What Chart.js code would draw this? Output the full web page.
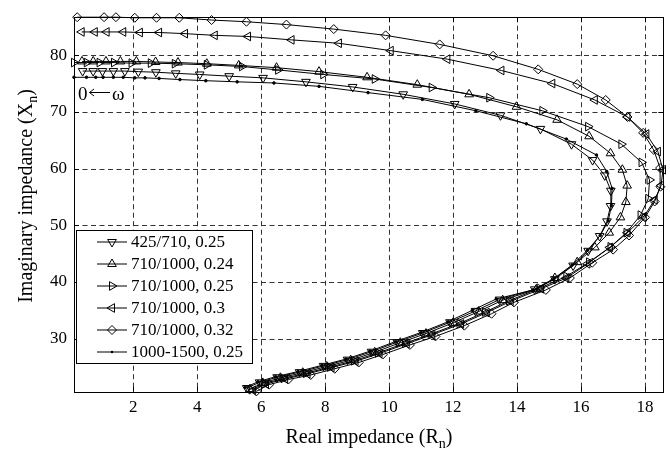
<!DOCTYPE html>
<html>
<head>
<meta charset="utf-8">
<script src="https://cdn.jsdelivr.net/npm/chart.js@4.4.1/dist/chart.umd.min.js"></script>
<style>
  html, body { margin: 0; padding: 0; background: #fff; }
</style>
</head>
<body>
<canvas id="chart" width="670" height="453"></canvas>
<script>
const seriesLabels = ["425/710, 0.25", "710/1000, 0.24", "710/1000, 0.25", "710/1000, 0.3", "710/1000, 0.32", "1000-1500, 0.25"];
const xTicks = [2, 4, 6, 8, 10, 12, 14, 16, 18];
const yTicks = [30, 40, 50, 60, 70, 80];
const xRange = [0.15, 18.57];
const yRange = [20.65, 86.7];

// 425/710, 0.25
const xA = [5.55, 5.95, 6.5, 7.2, 7.95, 8.7, 9.45, 10.25, 11.05, 11.9, 12.7, 13.45, 14.55, 15.18, 15.75, 16.22, 16.58, 16.81, 16.92, 16.93, 16.74, 16.36, 15.7, 14.73, 13.48, 12.05, 10.44, 8.86, 7.4, 6.06, 5.0, 4.08, 3.33, 2.71, 2.16, 1.74, 1.38, 1.04, 0.75, 0.42];
const yA = [21.3, 22.3, 23.2, 24.1, 25.2, 26.3, 27.7, 29.4, 31.0, 32.9, 34.9, 36.9, 38.7, 40.5, 42.9, 45.5, 48.1, 50.7, 53.4, 56.1, 58.8, 61.5, 64.3, 67.0, 69.4, 71.4, 73.1, 74.4, 75.3, 76.0, 76.3, 76.6, 76.8, 77.0, 77.1, 77.2, 77.2, 77.2, 77.2, 77.2];

// 710/1000, 0.24
const xB = [5.65, 6.05, 6.6, 7.3, 8.05, 8.8, 9.55, 10.35, 11.15, 12.0, 12.8, 13.55, 14.6, 15.18, 15.88, 16.43, 16.88, 17.23, 17.4, 17.44, 17.29, 16.92, 16.25, 15.25, 13.98, 12.5, 10.88, 9.31, 7.81, 6.48, 5.3, 4.3, 3.4, 2.7, 2.1, 1.6, 1.15, 0.75, 0.4];
const yB = [21.1, 22.2, 23.1, 24.0, 25.1, 26.2, 27.6, 29.3, 30.9, 32.8, 34.8, 36.8, 38.7, 40.7, 43.5, 46.1, 48.7, 51.4, 54.1, 57.0, 59.8, 62.7, 65.7, 68.6, 70.9, 73.1, 74.8, 76.1, 77.1, 77.8, 78.2, 78.5, 78.7, 78.8, 78.9, 78.9, 78.9, 78.9, 78.9];

// 710/1000, 0.25
const xC = [5.7, 6.1, 6.7, 7.4, 8.15, 8.9, 9.65, 10.5, 11.3, 12.2, 13.0, 13.75, 14.7, 15.54, 16.25, 16.92, 17.42, 17.86, 18.1, 18.14, 17.89, 17.26, 16.22, 14.79, 13.13, 11.33, 9.55, 7.94, 6.53, 5.4, 4.3, 3.3, 2.55, 1.95, 1.4, 0.95, 0.55, 0.15];
const yC = [21.0, 22.1, 23.0, 23.9, 25.0, 26.1, 27.5, 29.2, 30.8, 32.7, 34.7, 36.7, 38.9, 41.0, 43.5, 46.2, 48.7, 51.8, 54.7, 58.0, 61.1, 64.3, 67.4, 70.2, 72.5, 74.3, 75.8, 76.6, 77.4, 78.0, 78.3, 78.5, 78.6, 78.6, 78.7, 78.7, 78.7, 78.7];

// 710/1000, 0.3
const xD = [5.75, 6.15, 6.75, 7.45, 8.2, 8.95, 9.7, 10.55, 11.35, 12.25, 13.05, 13.8, 14.75, 15.54, 16.2, 16.9, 17.45, 17.96, 18.3, 18.5, 18.56, 18.4, 18.04, 17.45, 16.43, 15.1, 13.51, 11.82, 10.05, 8.43, 6.95, 5.59, 4.55, 3.62, 2.81, 2.21, 1.69, 1.17, 0.8, 0.39];
const yD = [20.9, 22.0, 22.9, 23.8, 24.9, 26.0, 27.4, 29.1, 30.7, 32.6, 34.6, 36.6, 38.8, 40.7, 43.2, 46.1, 48.7, 51.5, 54.5, 57.0, 59.8, 63.0, 66.1, 69.1, 72.1, 75.0, 77.3, 79.3, 80.8, 82.1, 82.7, 83.3, 83.5, 83.8, 84.0, 84.0, 84.1, 84.1, 84.1, 84.1];

// 710/1000, 0.32
const xE = [5.85, 6.25, 6.85, 7.55, 8.3, 9.05, 9.8, 10.65, 11.45, 12.35, 13.2, 13.9, 14.9, 15.65, 16.35, 17.0, 17.5, 18.0, 18.3, 18.48, 18.47, 18.27, 17.94, 17.45, 16.77, 15.88, 14.66, 13.25, 11.58, 9.89, 8.27, 6.79, 5.54, 4.45, 3.44, 2.73, 2.05, 1.46, 1.09, 0.25];
const yE = [20.7, 21.9, 22.8, 23.6, 24.7, 25.8, 27.2, 28.9, 30.4, 32.3, 34.4, 36.4, 38.6, 40.7, 43.4, 45.7, 48.2, 51.4, 54.2, 56.8, 60.1, 63.3, 66.3, 69.1, 72.1, 74.9, 77.5, 79.9, 81.9, 83.5, 84.6, 85.4, 85.9, 86.2, 86.6, 86.6, 86.6, 86.7, 86.7, 86.7];

// 1000-1500, 0.25
const xF = [5.5, 5.9, 6.45, 7.15, 7.9, 8.65, 9.4, 10.2, 11.0, 11.85, 12.6, 13.35, 14.5, 15.15, 15.72, 16.2, 16.6, 16.85, 16.95, 16.97, 16.8, 16.48, 15.54, 14.29, 12.71, 11.04, 9.34, 7.81, 6.4, 5.25, 4.27, 3.46, 2.81, 2.37, 2.05, 1.69, 1.38, 1.06, 0.83, 0.54, 0.15];
const yF = [21.4, 22.4, 23.3, 24.2, 25.3, 26.4, 27.8, 29.5, 31.1, 33.0, 35.0, 37.0, 38.6, 40.6, 43.0, 45.6, 48.2, 50.8, 53.5, 56.5, 59.5, 62.4, 65.2, 67.9, 70.2, 72.2, 73.4, 74.5, 75.1, 75.3, 75.5, 75.7, 75.9, 76.0, 76.0, 76.1, 76.1, 76.1, 76.1, 76.1, 76.1];

const allX = [xA, xB, xC, xD, xE, xF];
const allY = [yA, yB, yC, yD, yE, yF];

// marker look per series (MATLAB v, ^, >, <, d, .)
const looks = [
    { style: "triangle", rot: 180, r: 5 },
    { style: "triangle", rot: 0, r: 5 },
    { style: "triangle", rot: 90, r: 5 },
    { style: "triangle", rot: 270, r: 5 },
    { style: "rectRot", rot: 0, r: 4.5 },
    { style: "circle", rot: 0, r: 1.3, fill: "#000" }
];

const serif = '"Liberation Serif", "Times New Roman", serif';

function drawMarker(ctx, look, x, y) {
    ctx.beginPath();
    if (look.style === "triangle") {
        let a = look.rot * Math.PI / 180;
        for (let i = 0; i < 3; i++) {
            const px = x + Math.sin(a) * look.r, py = y - Math.cos(a) * look.r;
            if (i === 0) ctx.moveTo(px, py); else ctx.lineTo(px, py);
            a += 2 * Math.PI / 3;
        }
        ctx.closePath();
        ctx.stroke();
    } else if (look.style === "rectRot") {
        ctx.moveTo(x, y - look.r); ctx.lineTo(x + look.r, y);
        ctx.lineTo(x, y + look.r); ctx.lineTo(x - look.r, y);
        ctx.closePath();
        ctx.stroke();
    } else {
        ctx.arc(x, y, look.r, 0, Math.PI * 2);
        ctx.fillStyle = "#000";
        ctx.fill();
    }
}

// text with a subscript part, centred on (0,0) at the baseline
function drawSubLabel(ctx, main, sub, tail, size) {
    const big = size + "px " + serif, small = Math.round(size * 0.68) + "px " + serif;
    ctx.font = big; const w1 = ctx.measureText(main).width, w3 = ctx.measureText(tail).width;
    ctx.font = small; const w2 = ctx.measureText(sub).width;
    let x = -(w1 + w2 + w3) / 2;
    ctx.textAlign = "left"; ctx.textBaseline = "alphabetic"; ctx.fillStyle = "#000";
    ctx.font = big; ctx.fillText(main, x, 0); x += w1;
    ctx.font = small; ctx.fillText(sub, x, size * 0.26); x += w2;
    ctx.font = big; ctx.fillText(tail, x, 0);
}

const framePlugin = {
    id: "frame",
    beforeDatasetsDraw(chart) {
        const { ctx, chartArea: a, scales } = chart;
        ctx.save();
        ctx.lineWidth = 1;
        ctx.strokeStyle = "#333";
        ctx.setLineDash([5, 3.5]);
        xTicks.forEach(v => {
            const px = Math.round(scales.x.getPixelForValue(v)) + 0.5;
            ctx.beginPath(); ctx.moveTo(px, a.top); ctx.lineTo(px, a.bottom); ctx.stroke();
        });
        yTicks.forEach(v => {
            const py = Math.round(scales.y.getPixelForValue(v)) + 0.5;
            ctx.beginPath(); ctx.moveTo(a.left, py); ctx.lineTo(a.right, py); ctx.stroke();
        });
        ctx.setLineDash([]);
        ctx.strokeStyle = "#000";
        // inward tick marks
        xTicks.forEach(v => {
            const px = Math.round(scales.x.getPixelForValue(v)) + 0.5;
            ctx.beginPath();
            ctx.moveTo(px, a.bottom); ctx.lineTo(px, a.bottom - 5);
            ctx.moveTo(px, a.top); ctx.lineTo(px, a.top + 5);
            ctx.stroke();
        });
        yTicks.forEach(v => {
            const py = Math.round(scales.y.getPixelForValue(v)) + 0.5;
            ctx.beginPath();
            ctx.moveTo(a.left, py); ctx.lineTo(a.left + 5, py);
            ctx.moveTo(a.right, py); ctx.lineTo(a.right - 5, py);
            ctx.stroke();
        });
        ctx.restore();
    },
    afterDatasetsDraw(chart) {
        const { ctx, chartArea: a } = chart;
        ctx.save();
        ctx.lineWidth = 1;
        ctx.strokeStyle = "#000";
        ctx.strokeRect(Math.round(a.left) + 0.5, Math.round(a.top) + 0.5,
            Math.round(a.right - a.left), Math.round(a.bottom - a.top));

        // legend box
        const box = { left: 76.5, top: 230.5, right: 252.5, bottom: 363.5 };
        ctx.fillStyle = "#fff";
        ctx.fillRect(box.left, box.top, box.right - box.left, box.bottom - box.top);
        ctx.strokeRect(box.left, box.top, box.right - box.left, box.bottom - box.top);
        ctx.font = "17px " + serif;
        ctx.textBaseline = "middle";
        ctx.textAlign = "left";
        seriesLabels.forEach((label, i) => {
            const ry = 241.5 + i * 22;
            ctx.strokeStyle = "#000";
            ctx.beginPath(); ctx.moveTo(97, ry + 0.5); ctx.lineTo(127, ry + 0.5); ctx.stroke();
            drawMarker(ctx, looks[i], 112, ry + 0.5);
            ctx.fillStyle = "#000";
            ctx.fillText(label, 131, ry + 1);
        });

        // frequency note: 0 <- omega
        ctx.font = "19px " + serif;
        ctx.textBaseline = "alphabetic";
        ctx.fillStyle = "#000";
        ctx.fillText("0", 78, 99.5);
        ctx.fillText("\u03c9", 112, 99.5);
        ctx.beginPath();
        ctx.moveTo(89.5, 92.5); ctx.lineTo(110, 92.5);
        ctx.moveTo(89.5, 92.5); ctx.lineTo(94, 89);
        ctx.moveTo(89.5, 92.5); ctx.lineTo(94, 96);
        ctx.stroke();

        // axis titles
        ctx.save();
        ctx.translate(369, 443);
        drawSubLabel(ctx, "Real impedance (R", "n", ")", 20);
        ctx.restore();
        ctx.save();
        ctx.translate(32, 196);
        ctx.rotate(-Math.PI / 2);
        drawSubLabel(ctx, "Imaginary impedance (X", "n", ")", 20);
        ctx.restore();
        ctx.restore();
    }
};

const datasets = seriesLabels.map((label, i) => ({
    label: label,
    data: allX[i].map((x, k) => ({ x: x, y: allY[i][k] })),
    showLine: true,
    borderColor: "#000",
    borderWidth: 1,
    tension: 0,
    pointStyle: looks[i].style,
    pointRotation: looks[i].rot,
    pointRadius: looks[i].r,
    pointHoverRadius: looks[i].r,
    pointBorderColor: "#000",
    pointBorderWidth: 1,
    pointBackgroundColor: looks[i].fill || "rgba(0,0,0,0)",
    clip: false
}));

new Chart(document.getElementById("chart"), {
    type: "scatter",
    data: { datasets: datasets },
    plugins: [framePlugin],
    options: {
        responsive: false,
        animation: false,
        devicePixelRatio: 1,
        layout: { padding: { top: 6.7, right: 6.7, left: 0, bottom: 0 } },
        plugins: { legend: { display: false }, tooltip: { enabled: false } },
        scales: {
            x: {
                type: "linear",
                min: xRange[0],
                max: xRange[1],
                grid: { display: false, drawTicks: false },
                border: { display: false },
                afterBuildTicks: s => { s.ticks = xTicks.map(v => ({ value: v })); },
                afterFit: s => { s.height = 61.3; },
                ticks: { color: "#000", padding: 6, maxRotation: 0, font: { family: serif, size: 17 } }
            },
            y: {
                type: "linear",
                min: yRange[0],
                max: yRange[1],
                grid: { display: false, drawTicks: false },
                border: { display: false },
                afterBuildTicks: s => { s.ticks = yTicks.map(v => ({ value: v })); },
                afterFit: s => { s.width = 74; },
                ticks: { color: "#000", padding: 7, font: { family: serif, size: 17 } }
            }
        }
    }
});
</script>
</body>
</html>
